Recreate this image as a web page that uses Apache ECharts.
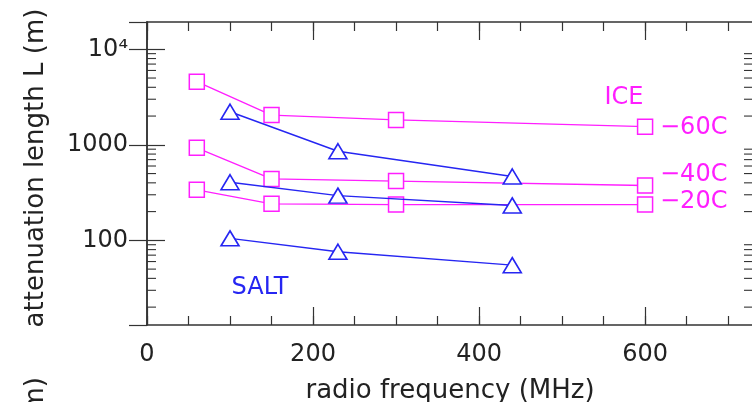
<!DOCTYPE html>
<html>
<head>
<meta charset="utf-8">
<script src="https://cdn.jsdelivr.net/npm/echarts@6/dist/echarts.min.js"></script>
<style>
  html, body { margin: 0; padding: 0; background: #fff; }
  #chart { width: 752px; height: 402px; }
</style>
</head>
<body>
<div id="chart"></div>
<script>
// radio frequency (MHz)
var iceFreq = [60, 150, 300, 600];
var saltFreq = [100, 230, 440];

// attenuation length (m)
var ice60 = [4580, 2050, 1820, 1550];
var ice40 = [930, 440, 417, 375];
var ice20 = [338, 241, 237, 237];
var saltHigh = [2220, 857, 466];
var saltMid = [406, 294, 232];
var saltLow = [105, 76, 55];

var xMin = 0, xMax = 730;
var yMin = 13, yMax = 19300;
var logDecades = [10, 100, 1000, 10000];
var logMantissas = [2, 3, 4, 5, 6, 7, 8, 9];

var magenta = '#ff1eff';
var blue = '#2626f2';
var ink = '#222';
var font = 'DejaVu Sans';

function pairs(xs, ys) {
    return xs.map(function (x, i) { return [x, ys[i]]; });
}

var minorTicks = [];
logDecades.forEach(function (d) {
    logMantissas.forEach(function (m) {
        var v = m * d;
        if (v > yMin && v < yMax) minorTicks.push([0, v]);
    });
});

function iceSeries(name, ys) {
    return {
        name: name, type: 'line', data: pairs(iceFreq, ys),
        symbol: 'rect', symbolSize: 15,
        lineStyle: { color: magenta, width: 1.3 },
        itemStyle: { color: '#fff', borderColor: magenta, borderWidth: 1.5 },
        z: 4
    };
}
function saltSeries(name, ys) {
    return {
        name: name, type: 'line', data: pairs(saltFreq, ys),
        symbol: 'triangle', symbolSize: [18, 15],
        lineStyle: { color: blue, width: 1.4 },
        itemStyle: { color: '#fff', borderColor: blue, borderWidth: 1.6 },
        z: 5
    };
}

var myChart = echarts.init(document.getElementById('chart'));
var axisLine = { show: true, lineStyle: { color: '#333', width: 1.5 } };
var tickStyle = { color: '#333', width: 1.2 };

var option = {
    animation: false,
    backgroundColor: '#fff',
    grid: { left: 147, top: 22, width: 606, height: 303, containLabel: false, outerBoundsMode: 'none' },
    xAxis: [
        {
            type: 'value', position: 'bottom', min: xMin, max: xMax, interval: 50,
            axisLine: axisLine,
            axisTick: { inside: true, length: 9, lineStyle: tickStyle },
            axisLabel: {
                margin: 18, color: ink, fontFamily: font, fontSize: 24,
                showMaxLabel: false,
                formatter: function (v) { return v % 200 === 0 ? String(v) : ''; }
            },
            splitLine: { show: false },
            name: 'radio frequency (MHz)', nameLocation: 'middle', nameGap: 53,
            nameTextStyle: { color: ink, fontFamily: font, fontSize: 26 }
        },
        {
            type: 'value', position: 'bottom', min: xMin, max: xMax, interval: 200,
            axisLine: { show: false },
            axisTick: { inside: true, length: 18, lineStyle: tickStyle },
            axisLabel: { show: false }, splitLine: { show: false }
        },
        {
            type: 'value', position: 'top', min: xMin, max: xMax, interval: 50,
            axisLine: axisLine,
            axisTick: { inside: true, length: 9, lineStyle: tickStyle },
            axisLabel: { show: false }, splitLine: { show: false }
        },
        {
            type: 'value', position: 'top', min: xMin, max: xMax, interval: 200,
            axisLine: { show: false },
            axisTick: { inside: true, length: 18, lineStyle: tickStyle },
            axisLabel: { show: false }, splitLine: { show: false }
        }
    ],
    yAxis: [
        {
            type: 'log', logBase: 10, position: 'left', min: yMin, max: yMax,
            axisLine: axisLine,
            axisTick: { inside: true, length: 18, lineStyle: tickStyle },
            axisLabel: {
                margin: 19, color: ink, fontFamily: font, fontSize: 24,
                showMinLabel: false, showMaxLabel: false,
                formatter: function (v) {
                    v = Math.round(v);
                    return v === 10000 ? '10\u2074' : String(v);
                }
            },
            splitLine: { show: false }
        },
        {
            type: 'log', logBase: 10, position: 'right', min: yMin, max: yMax,
            axisLine: axisLine,
            axisTick: { inside: true, length: 18, lineStyle: tickStyle },
            axisLabel: { show: false }, splitLine: { show: false }
        }
    ],
    graphic: [
        {
            type: 'text', x: 36, y: 168, rotation: Math.PI / 2,
            style: { text: 'attenuation length L (m)', fill: ink, font: '26px "DejaVu Sans"', textAlign: 'center', textVerticalAlign: 'middle' }
        },
        {
            type: 'text', x: 36, y: 377, rotation: Math.PI / 2,
            style: { text: 'attenuation length L (m)', fill: ink, font: '26px "DejaVu Sans"', textAlign: 'right', textVerticalAlign: 'middle' }
        },
        { type: 'text', x: 624, y: 98, style: { text: 'ICE', fill: magenta, font: '24px "DejaVu Sans"', textAlign: 'center', textVerticalAlign: 'middle' } },
        { type: 'text', x: 660, y: 128, style: { text: '\u221260C', fill: magenta, font: '24px "DejaVu Sans"', textAlign: 'left', textVerticalAlign: 'middle' } },
        { type: 'text', x: 660, y: 175, style: { text: '\u221240C', fill: magenta, font: '24px "DejaVu Sans"', textAlign: 'left', textVerticalAlign: 'middle' } },
        { type: 'text', x: 660, y: 202, style: { text: '\u221220C', fill: magenta, font: '24px "DejaVu Sans"', textAlign: 'left', textVerticalAlign: 'middle' } },
        { type: 'text', x: 260, y: 288, style: { text: 'SALT', fill: blue, font: '24px "DejaVu Sans"', textAlign: 'center', textVerticalAlign: 'middle' } }
    ],
    series: [
        {
            type: 'custom', silent: true, z: 3,
            data: minorTicks,
            renderItem: function (params, api) {
                var v = api.value(1);
                var left = api.coord([xMin, v]);
                var right = api.coord([xMax, v]);
                return {
                    type: 'group',
                    children: [
                        { type: 'line', shape: { x1: left[0], y1: left[1], x2: left[0] + 9, y2: left[1] }, style: { stroke: '#333', lineWidth: 1.1 } },
                        { type: 'line', shape: { x1: right[0], y1: right[1], x2: right[0] - 9, y2: right[1] }, style: { stroke: '#333', lineWidth: 1.1 } }
                    ]
                };
            }
        },
        iceSeries('ICE -60C', ice60),
        iceSeries('ICE -40C', ice40),
        iceSeries('ICE -20C', ice20),
        saltSeries('SALT high', saltHigh),
        saltSeries('SALT mid', saltMid),
        saltSeries('SALT low', saltLow)
    ]
};
myChart.setOption(option);
</script>
</body>
</html>
